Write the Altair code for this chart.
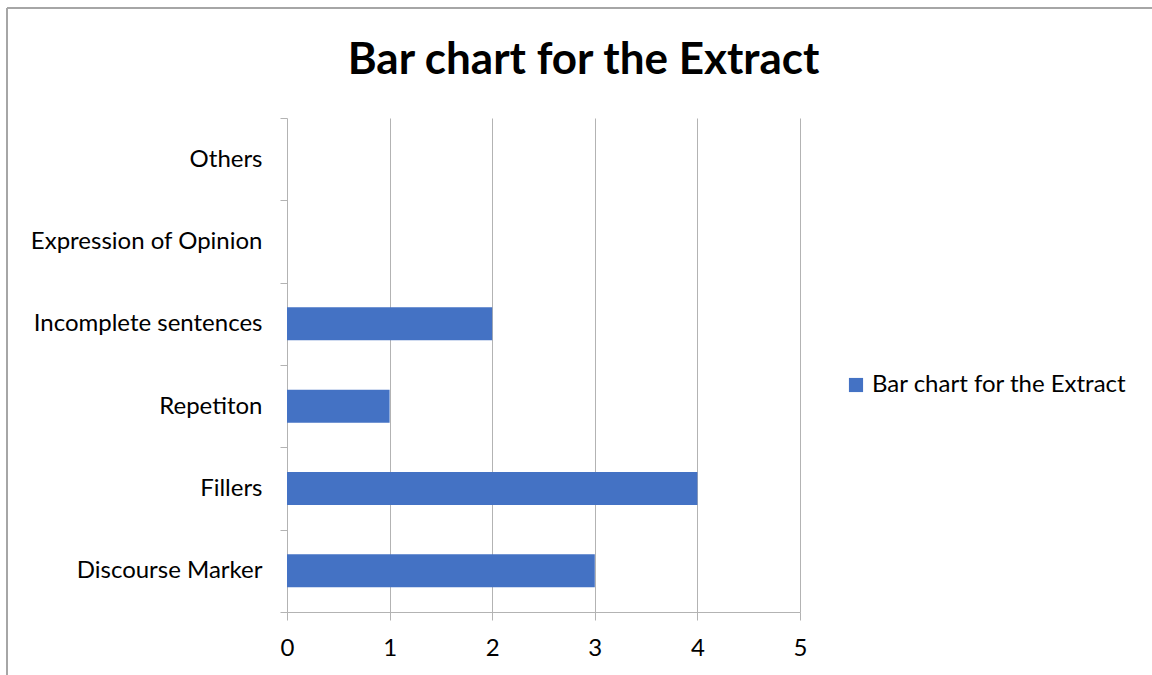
import altair as alt
import pandas as pd

categories = ["Others", "Expression of Opinion", "Incomplete sentences",
              "Repetiton", "Fillers", "Discourse Marker"]
values = [0, 0, 2, 1, 4, 3]
series = ["Bar chart for the Extract"] * len(categories)
x_ticks = [0, 1, 2, 3, 4, 5]

df = pd.DataFrame({"category": categories, "value": values, "series": series})

FONT = "Lato"
GRID = "#b3b3b3"
FS = 24

bars = alt.Chart(df).mark_bar(color="#4472C4", height={"band": 0.4}).encode(
    y=alt.Y("category:N", sort=categories, title=None,
            scale=alt.Scale(paddingInner=0, paddingOuter=0),
            axis=alt.Axis(tickBand="extent", tickSize=7, tickColor=GRID,
                          domain=False, labelFontSize=FS, labelFont=FONT,
                          labelColor="#000000", labelPadding=18, labelLimit=0,
                          grid=False)),
    x=alt.X("value:Q", title=None,
            scale=alt.Scale(domain=[0, 5], nice=False),
            axis=alt.Axis(values=x_ticks, format="d", tickSize=8, tickColor=GRID,
                          domainColor=GRID, gridColor=GRID, grid=True,
                          labelFlush=False,
                          labelFontSize=FS, labelFont=FONT, labelColor="#000000",
                          labelPadding=16)),
    color=alt.Color("series:N", title=None,
                    scale=alt.Scale(range=["#4472C4"]),
                    legend=alt.Legend(orient="none", legendX=557, legendY=255,
                                      symbolType="square", symbolSize=200,
                                      symbolStrokeWidth=0, labelFontSize=FS,
                                      labelLimit=0, labelOffset=4,
                                      labelFont=FONT, labelColor="#000000")),
)

border_top = alt.Chart(df).mark_rule(color="#a6a6a6", strokeWidth=1.5).encode(
    x=alt.value(-280), x2=alt.value(865), y=alt.value(-110))
border_left = alt.Chart(df).mark_rule(color="#a6a6a6", strokeWidth=1.5).encode(
    x=alt.value(-280), y=alt.value(-110), y2=alt.value(557))

chart = alt.layer(border_top, border_left, bars).properties(
    width=513, height=494,
    padding={"left": 287, "top": 118, "right": 352, "bottom": 63},
    autosize=alt.AutoSizeParams(type="none"),
    title=alt.TitleParams("Bar chart for the Extract", fontSize=44,
                          fontWeight="bold", font=FONT, color="#000000",
                          anchor="middle", dx=40, offset=0, dy=111,
                          baseline="alphabetic"),
).configure_view(stroke=None)

chart.save("out.html", embed_options={"renderer": "svg", "actions": False})
